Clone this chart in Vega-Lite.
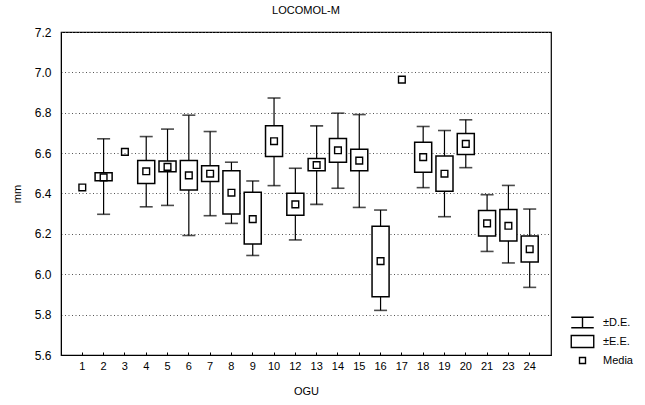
{
  "$schema": "https://vega.github.io/schema/vega-lite/v6.json",
  "autosize": {"type": "none"},
  "width": 490,
  "height": 323,
  "padding": {"left": 61, "top": 32, "right": 94, "bottom": 50},
  "background": "white",
  "title": {"text": "LOCOMOL-M", "font": "Liberation Sans", "fontSize": 11, "fontWeight": "normal", "color": "black", "offset": 10, "anchor": "middle"},
  "config": {
    "view": {"stroke": "black", "strokeWidth": 1.2},
    "font": "Liberation Sans",
    "axis": {"labelFont": "Liberation Sans", "titleFont": "Liberation Sans", "labelFontSize": 11, "titleFontSize": 11, "titleFontWeight": "normal", "labelColor": "black", "titleColor": "black", "domainColor": "black", "tickColor": "black"}
  },
  "data": {
    "values": [
      {"ogu": "1", "mean": 6.43, "se_lo": null, "se_hi": null, "sd_lo": null, "sd_hi": null},
      {"ogu": "2", "mean": 6.48, "se_lo": 6.463, "se_hi": 6.503, "sd_lo": 6.297, "sd_hi": 6.671},
      {"ogu": "3", "mean": 6.606, "se_lo": null, "se_hi": null, "sd_lo": null, "sd_hi": null},
      {"ogu": "4", "mean": 6.51, "se_lo": 6.449, "se_hi": 6.563, "sd_lo": 6.334, "sd_hi": 6.682},
      {"ogu": "5", "mean": 6.532, "se_lo": 6.508, "se_hi": 6.561, "sd_lo": 6.341, "sd_hi": 6.719},
      {"ogu": "6", "mean": 6.49, "se_lo": 6.417, "se_hi": 6.563, "sd_lo": 6.192, "sd_hi": 6.788},
      {"ogu": "7", "mean": 6.498, "se_lo": 6.46, "se_hi": 6.537, "sd_lo": 6.29, "sd_hi": 6.707},
      {"ogu": "8", "mean": 6.404, "se_lo": 6.298, "se_hi": 6.513, "sd_lo": 6.252, "sd_hi": 6.555},
      {"ogu": "9", "mean": 6.273, "se_lo": 6.15, "se_hi": 6.406, "sd_lo": 6.093, "sd_hi": 6.462},
      {"ogu": "10", "mean": 6.659, "se_lo": 6.583, "se_hi": 6.735, "sd_lo": 6.439, "sd_hi": 6.873},
      {"ogu": "12", "mean": 6.346, "se_lo": 6.292, "se_hi": 6.401, "sd_lo": 6.17, "sd_hi": 6.525},
      {"ogu": "13", "mean": 6.541, "se_lo": 6.513, "se_hi": 6.573, "sd_lo": 6.346, "sd_hi": 6.735},
      {"ogu": "14", "mean": 6.614, "se_lo": 6.555, "se_hi": 6.672, "sd_lo": 6.426, "sd_hi": 6.798},
      {"ogu": "15", "mean": 6.563, "se_lo": 6.513, "se_hi": 6.619, "sd_lo": 6.331, "sd_hi": 6.791},
      {"ogu": "16", "mean": 6.065, "se_lo": 5.889, "se_hi": 6.238, "sd_lo": 5.821, "sd_hi": 6.318},
      {"ogu": "17", "mean": 6.964, "se_lo": null, "se_hi": null, "sd_lo": null, "sd_hi": null},
      {"ogu": "18", "mean": 6.58, "se_lo": 6.505, "se_hi": 6.654, "sd_lo": 6.429, "sd_hi": 6.732},
      {"ogu": "19", "mean": 6.498, "se_lo": 6.411, "se_hi": 6.586, "sd_lo": 6.285, "sd_hi": 6.712},
      {"ogu": "20", "mean": 6.646, "se_lo": 6.593, "se_hi": 6.697, "sd_lo": 6.528, "sd_hi": 6.765},
      {"ogu": "21", "mean": 6.252, "se_lo": 6.19, "se_hi": 6.316, "sd_lo": 6.113, "sd_hi": 6.394},
      {"ogu": "23", "mean": 6.24, "se_lo": 6.165, "se_hi": 6.321, "sd_lo": 6.056, "sd_hi": 6.44},
      {"ogu": "24", "mean": 6.124, "se_lo": 6.061, "se_hi": 6.189, "sd_lo": 5.935, "sd_hi": 6.323}
    ]
  },
  "encoding": {
    "x": {
      "field": "ogu", "type": "ordinal",
      "scale": {
        "type": "band", "paddingInner": 0.2, "paddingOuter": 0.6,
        "domain": ["1", "2", "3", "4", "5", "6", "7", "8", "9", "10", "12", "13", "14", "15", "16", "17", "18", "19", "20", "21", "23", "24"]
      },
      "axis": {"title": "OGU", "labelAngle": 0, "labelPadding": 8, "tickSize": -3, "domain": true, "titlePadding": 14}
    }
  },
  "layer": [
    {
      "mark": {"type": "rule", "color": "black", "strokeWidth": 1.2},
      "encoding": {
        "y": {
          "field": "sd_lo", "type": "quantitative",
          "scale": {"domain": [5.6, 7.2], "nice": false, "zero": false},
          "axis": {"title": "mm", "values": [5.6, 5.8, 6.0, 6.2, 6.4, 6.6, 6.8, 7.0, 7.2], "format": ".1f", "grid": true, "gridDash": [1, 2.5], "gridColor": "#555555", "gridWidth": 1, "tickSize": 0, "labelPadding": 10, "labelFontSize": 12, "titlePadding": 12, "titleAngle": 270}
        },
        "y2": {"field": "sd_hi"}
      }
    },
    {
      "mark": {"type": "tick", "color": "black", "size": 13, "thickness": 1.6},
      "encoding": {"y": {"field": "sd_lo", "type": "quantitative"}}
    },
    {
      "mark": {"type": "tick", "color": "black", "size": 13, "thickness": 1.6},
      "encoding": {"y": {"field": "sd_hi", "type": "quantitative"}}
    },
    {
      "mark": {"type": "bar", "fill": "white", "stroke": "black", "strokeWidth": 1.5},
      "encoding": {
        "y": {"field": "se_lo", "type": "quantitative"},
        "y2": {"field": "se_hi"}
      }
    },
    {
      "mark": {"type": "point", "shape": "square", "filled": false, "stroke": "black", "strokeWidth": 1.4, "size": 45, "opacity": 1},
      "encoding": {"y": {"field": "mean", "type": "quantitative"}}
    },
    {
      "data": {"values": [{"item": "±D.E."}, {"item": "±E.E."}, {"item": "Media"}]},
      "mark": {"type": "point", "opacity": 0, "filled": false},
      "encoding": {
        "x": {"value": 0},
        "y": {"value": 0},
        "shape": {
          "field": "item", "type": "nominal",
          "scale": {
            "domain": ["±D.E.", "±E.E.", "Media"],
            "range": [
              "M-1.5,-0.7H1.5M0,-0.7V0.7M-1.5,0.7H1.5",
              "M-1.5,-0.8H1.5V0.8H-1.5Z",
              "M-0.4,-0.4H0.4V0.4H-0.4Z"
            ]
          },
          "legend": {
            "title": null,
            "orient": "none",
            "legendX": 513,
            "legendY": 282,
            "symbolSize": 225,
            "symbolStrokeColor": "black",
            "symbolFillColor": "transparent",
            "symbolStrokeWidth": 1.4,
            "symbolOpacity": 1,
            "labelFont": "Liberation Sans",
            "labelFontSize": 11,
            "labelColor": "black",
            "labelOffset": 12,
            "rowPadding": 1
          }
        }
      }
    }
  ]
}
